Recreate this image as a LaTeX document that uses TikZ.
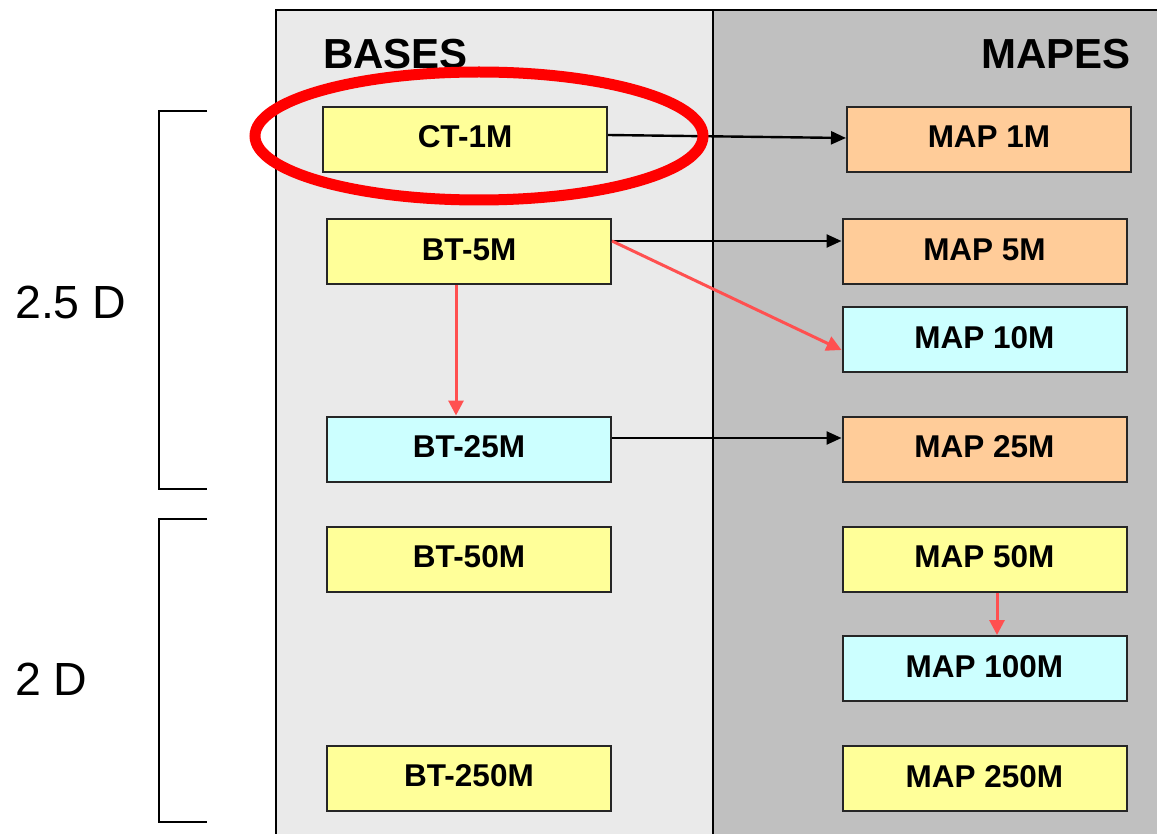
\documentclass[tikz,border=0pt]{standalone}
\usepackage{fontspec}
\setmainfont{Liberation Sans}
\usetikzlibrary{arrows.meta}
\definecolor{panelL}{HTML}{EAEAEA}
\definecolor{panelR}{HTML}{C0C0C0}
\definecolor{yel}{HTML}{FFFF99}
\definecolor{ora}{HTML}{FFCC99}
\definecolor{cya}{HTML}{CCFFFF}
\definecolor{redarrow}{HTML}{FF5050}
\tikzset{
  box/.style={draw=black!85, line width=2pt, minimum width=284pt, minimum height=65pt,
    inner sep=0pt, text height=22pt, text depth=5pt,
    font=\fontsize{31.5}{38}\selectfont\bfseries},
  title/.style={inner sep=0pt, font=\fontsize{42}{50}\selectfont\bfseries},
  side/.style={inner sep=0pt, font=\fontsize{46.5}{54}\selectfont},
  blackarrow/.style={draw=black, line width=2.4pt, -{Triangle[length=15pt,width=13pt]}},
  redarr/.style={draw=redarrow, line width=3pt, -{Triangle[length=15pt,width=15pt]}},
  bracket/.style={draw=black, line width=2pt},
  frame/.style={draw=black, line width=2pt}
}
\begin{document}
\begin{tikzpicture}[x=1pt,y=-1pt]
\useasboundingbox (0,0) rectangle (1157,834);
% two panels
\fill[panelL] (276,10) rectangle (713,834);
\fill[panelR] (713,10) rectangle (1157,834);
\draw[frame] (276,834) -- (276,10) -- (1157,10);
\draw[frame] (713,10) -- (713,834);
% column titles
\node[title, anchor=base west] (tb) at (323,69) {BASES};
\node[title, anchor=base east] (tm) at (1131,69) {MAPES};
% side brackets
\draw[bracket] (207,111) -- (159,111) -- (159,489) -- (207,489);
\draw[bracket] (207,519) -- (159,519) -- (159,822) -- (207,822);
\node[side, anchor=base west] (d25) at (15,319) {2.5 D};
\node[side, anchor=base west] (d2) at (15,695) {2 D};
% bases
\node[box, fill=yel] (ct1) at (465,139.5) {CT-1M};
\node[box, fill=yel] (bt5) at (469,252) {BT-5M};
\node[box, fill=cya] (bt25) at (469,449) {BT-25M};
\node[box, fill=yel] (bt50) at (469,559) {BT-50M};
\node[box, fill=yel] (bt250) at (469,778) {BT-250M};
% maps
\node[box, fill=ora] (m1) at (989,139.5) {MAP 1M};
\node[box, fill=ora] (m5) at (984.5,252) {MAP 5M};
\node[box, fill=cya] (m10) at (984.5,340) {MAP 10M};
\node[box, fill=ora] (m25) at (984.5,449) {MAP 25M};
\node[box, fill=yel] (m50) at (984.5,559) {MAP 50M};
\node[box, fill=cya] (m100) at (984.5,668.5) {MAP 100M};
\node[box, fill=yel] (m250) at (984.5,778.5) {MAP 250M};
% connectors
\draw[blackarrow] ([yshift=4.5pt]ct1.east) -- ([yshift=1.5pt]m1.west);
\draw[blackarrow] ([yshift=11pt]bt5.east) -- ([yshift=11pt]m5.west);
\draw[redarr] ([yshift=11pt]bt5.east) -- ([yshift=-10pt]m10.west);
\draw[redarr] ([xshift=-13pt]bt5.south) -- ([xshift=-13pt]bt25.north);
\draw[blackarrow] ([yshift=11pt]bt25.east) -- ([yshift=11pt]m25.west);
\draw[redarr] ([xshift=12.5pt]m50.south) -- ([xshift=12.5pt]m100.north);
% highlight ring
\draw[red, line width=11pt] (479,136) ellipse [x radius=224pt, y radius=64pt];
\end{tikzpicture}
\end{document}
